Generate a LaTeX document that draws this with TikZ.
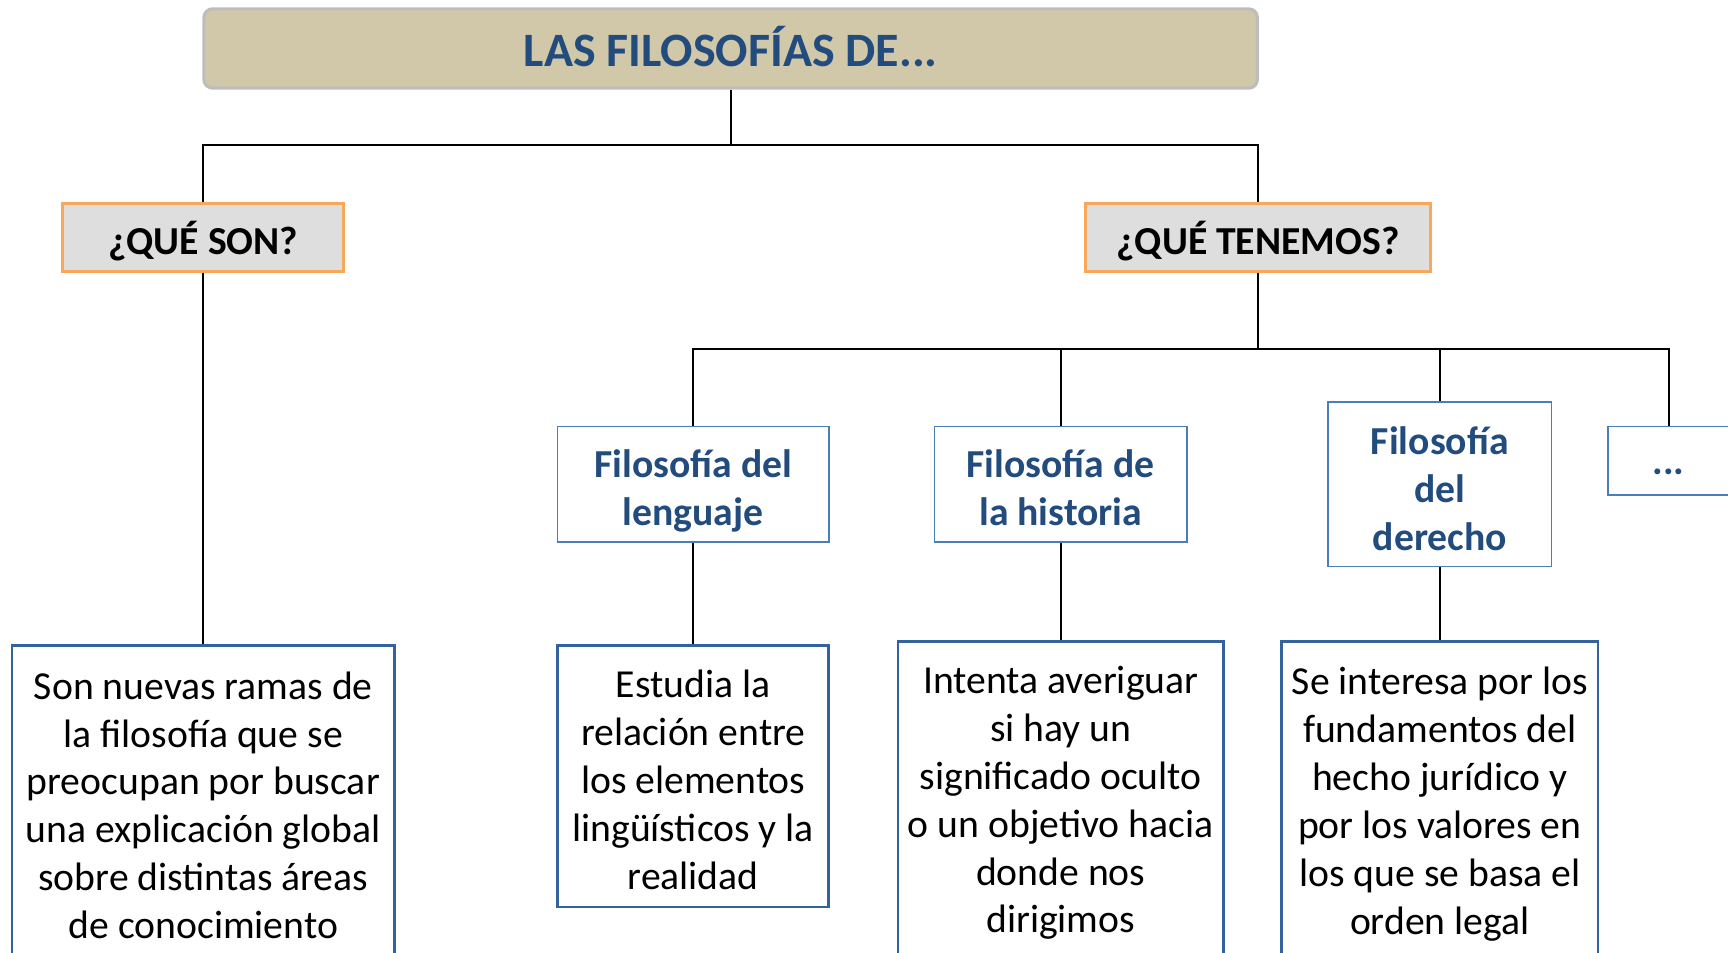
\documentclass[tikz,border=0pt]{standalone}
\usepackage{fontspec}
\setmainfont{Carlito}
\definecolor{tanfill}{HTML}{D0C8A8}
\definecolor{tanline}{HTML}{BDBDBD}
\definecolor{navy}{HTML}{224B7E}
\definecolor{orangeline}{HTML}{F8A858}
\definecolor{grayfill}{HTML}{DEDEDE}
\definecolor{blueline}{HTML}{4A7EBB}
\definecolor{boxline}{HTML}{34629E}
\begin{document}
\begin{tikzpicture}[x=0.5pt,y=-0.5pt,
  titlebox/.style={rounded corners=4pt,fill=tanfill,draw=tanline,line width=1.4pt,
    minimum width=478pt,minimum height=36pt,inner sep=0pt,
    text height=16.5pt,text depth=0pt,
    font=\fontsize{21.75pt}{25pt}\selectfont\bfseries,text=navy},
  qbox/.style={fill=grayfill,draw=orangeline,line width=1.4pt,minimum height=30.5pt,
    inner sep=0pt,text height=15.3pt,text depth=0pt,
    font=\fontsize{18pt}{22pt}\selectfont\bfseries},
  fbox/.style={draw=blueline,line width=0.7pt,fill=white,inner sep=0pt,align=center,
    text depth=0pt,
    font=\fontsize{18pt}{21.8pt}\selectfont\bfseries,text=navy},
  dbox/.style={draw=boxline,line width=1.2pt,fill=white,inner sep=0pt,align=center,
    text depth=0pt,
    font=\fontsize{18pt}{21.75pt}\selectfont},
  conn/.style={draw=black,line width=0.9pt}
]
\useasboundingbox (0,0) rectangle (1568,864);
\clip (0,0) rectangle (1568,864);
\fill[white] (0,0) rectangle (1568,864);

\node[titlebox] (T) at (663,44) {LAS FILOSOFÍAS DE...};
\node[qbox,minimum width=127.5pt] (QS) at (184.5,215.5) {¿QUÉ SON?};
\node[qbox,minimum width=156.5pt] (QT) at (1141.5,215.5) {¿QUÉ TENEMOS?};

\node[fbox,minimum width=123pt,minimum height=52.5pt,text height=37.5pt] (L) at (629,439.5) {Filosofía del\\lenguaje};
\node[fbox,minimum width=114.5pt,minimum height=52.5pt,text height=37.5pt] (H) at (962.5,439.5) {Filosofía de\\la historia};
\node[fbox,minimum width=101.5pt,minimum height=74.5pt,text height=60.2pt] (D) at (1306.5,439.5) {Filosofía\\del\\derecho};
\node[fbox,minimum width=55pt,minimum height=31pt,text height=13pt] (E) at (1514,418) {...};

\node[dbox,minimum width=173.5pt,minimum height=143.5pt,text height=122.35pt] (B1) at (184.5,729.5)
  {Son nuevas ramas de\\la filosofía que se\\preocupan por buscar\\una explicación global\\sobre distintas áreas\\de conocimiento};
\node[dbox,minimum width=123pt,minimum height=118.5pt,text height=102.6pt] (B2) at (629,704.5)
  {Estudia la\\relación entre\\los elementos\\lingüísticos y la\\realidad};
\node[dbox,minimum width=147.5pt,minimum height=144.5pt,text height=120.05pt] (B3) at (962.5,726.5)
  {Intenta averiguar\\si hay un\\significado oculto\\o un objetivo hacia\\donde nos\\dirigimos};
\node[dbox,minimum width=143.5pt,minimum height=144.5pt,text height=121.05pt] (B4) at (1306.5,726.5)
  {Se interesa por los\\fundamentos del\\hecho jurídico y\\por los valores en\\los que se basa el\\orden legal};

\coordinate (j1) at (663,132);
\coordinate (j2) at (1141.5,317);
\draw[conn] (T.south) -- (j1);
\draw[conn] (QS.north) |- (j1) -| (QT.north);
\draw[conn] (QT.south) -- (j2);
\draw[conn] (L.north) |- (j2) -| (E.north);
\draw[conn] (H.north) -- (H.north |- j2);
\draw[conn] (D.north) -- (D.north |- j2);
\draw[conn] (QS.south) -- (B1.north);
\draw[conn] (L.south) -- (B2.north);
\draw[conn] (H.south) -- (B3.north);
\draw[conn] (D.south) -- (B4.north);
\end{tikzpicture}
\end{document}
